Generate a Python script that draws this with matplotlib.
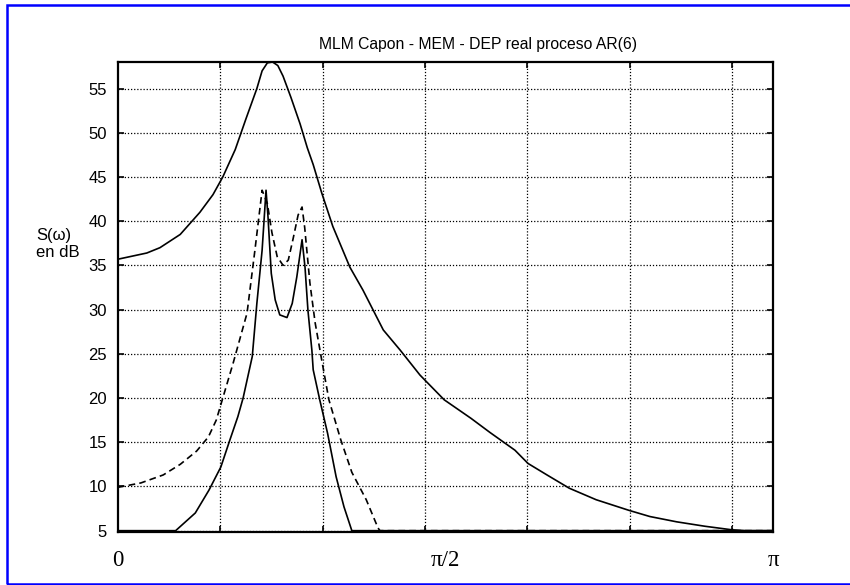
import numpy as np
import matplotlib
matplotlib.use("Agg")
from matplotlib import pyplot as plt
from matplotlib.patches import Rectangle

# frequency as a fraction of pi, level in dB
f_real = [0.000, 0.044, 0.064, 0.095, 0.125, 0.145, 0.160, 0.179, 0.195, 0.212,
          0.220, 0.228, 0.236, 0.244, 0.252, 0.264, 0.278, 0.289, 0.298, 0.311,
          0.328, 0.354, 0.374, 0.405, 0.431, 0.461, 0.498, 0.539, 0.568, 0.606,
          0.626, 0.655, 0.689, 0.730, 0.780, 0.812, 0.853, 0.896, 0.937, 0.957,
          1.000]
s_real = [35.7, 36.4, 37.0, 38.5, 41.0, 43.0, 45.0, 48.1, 51.5, 55.0,
          57.0, 57.9, 58.0, 57.6, 56.4, 54.0, 51.0, 48.3, 46.4, 43.2,
          39.4, 34.8, 32.2, 27.7, 25.4, 22.6, 19.8, 17.7, 16.1, 14.1,
          12.6, 11.3, 9.8, 8.5, 7.3, 6.6, 6.0, 5.5, 5.1, 5.0,
          5.0]

f_capon = [0.000, 0.035, 0.069, 0.095, 0.120, 0.138, 0.150, 0.160, 0.176, 0.197,
           0.209, 0.220, 0.228, 0.235, 0.243, 0.252, 0.260, 0.267, 0.275, 0.281,
           0.285, 0.293, 0.301, 0.311, 0.322, 0.340, 0.357, 0.379, 0.397, 0.400,
           1.000]
s_capon = [9.9, 10.4, 11.3, 12.5, 14.0, 15.6, 17.5, 20.0, 24.0, 29.6,
           36.7, 43.5, 42.0, 38.7, 36.0, 35.0, 35.6, 37.9, 40.7, 41.6,
           39.3, 33.0, 28.5, 24.3, 19.8, 15.3, 11.6, 8.5, 5.3, 5.0,
           5.0]

f_mem = [0.000, 0.088, 0.118, 0.139, 0.157, 0.171, 0.183, 0.191, 0.205, 0.212,
         0.220, 0.226, 0.229, 0.234, 0.240, 0.247, 0.258, 0.266, 0.273, 0.281,
         0.2855, 0.290, 0.296, 0.298, 0.308, 0.320, 0.333, 0.345, 0.357, 1.000]
s_mem = [5.0, 5.0, 7.0, 9.6, 12.2, 15.3, 17.9, 20.0, 24.7, 30.7,
         36.7, 43.5, 40.5, 34.1, 31.1, 29.4, 29.1, 30.7, 33.7, 37.9,
         34.8, 29.9, 25.4, 23.2, 19.8, 16.0, 11.1, 7.7, 5.0, 5.0]

y_ticks = [5, 10, 15, 20, 25, 30, 35, 40, 45, 50, 55]
x_ticks = [0, np.pi / 2, np.pi]
x_labels = ["0", "\u03c0/2", "\u03c0"]
n_fft = 512
grid_step = 80

fig = plt.figure(figsize=(8.5, 5.85), dpi=100)
ax = fig.add_axes([118 / 850, 1 - 532 / 585, 655 / 850, 470 / 585])

ax.plot(np.array(f_real) * np.pi, s_real, color="black", lw=1.2)
ax.plot(np.array(f_capon) * np.pi, s_capon, color="black", lw=1.2, dashes=(4, 2.5))
ax.plot(np.array(f_mem) * np.pi, s_mem, color="black", lw=1.2)

ax.set_xlim(0, np.pi)
ax.set_ylim(4.85, 58)

ax.set_yticks(y_ticks)
ax.set_xticks(x_ticks)
ax.set_xticklabels(x_labels, family="Liberation Serif", fontsize=16.5)
ax.set_xticks([k * grid_step / n_fft * np.pi for k in range(1, 7)], minor=True)
for lab in ax.get_yticklabels():
    lab.set_family("Liberation Sans")
    lab.set_fontsize(12)

ax.tick_params(axis="y", which="major", direction="in", left=True, right=True,
               length=4, width=1.2, pad=8)
ax.tick_params(axis="x", which="major", length=0, pad=13)
ax.tick_params(axis="x", which="minor", direction="in", top=True, bottom=True,
               length=4, width=1.2)

ax.grid(True, axis="y", which="major", color="black", lw=0.9, linestyle=(0, (1, 1.5)))
ax.grid(True, axis="x", which="minor", color="black", lw=0.9, linestyle=(0, (1, 1.5)))
ax.grid(False, axis="x", which="major")

for sp in ax.spines.values():
    sp.set_linewidth(1.6)

fig.text(478 / 850, 1 - 49 / 585, "MLM Capon - MEM - DEP real proceso AR(6)",
         family="Liberation Sans", fontsize=11.3, ha="center", va="baseline")
fig.text(36 / 850, 1 - 244 / 585, "S(\u03c9)\nen dB", family="Liberation Sans",
         fontsize=12, ha="left", va="center", multialignment="left", linespacing=1.1)

fig.patches.append(Rectangle((7 / 850, 1 / 585), 1.0, 579 / 585, transform=fig.transFigure,
                             fill=False, edgecolor="#0000ff", lw=1.8))

fig.savefig("out.png", dpi=100)
